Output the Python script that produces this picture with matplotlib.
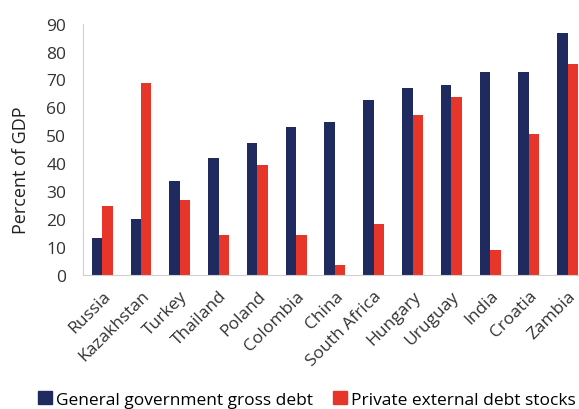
import matplotlib.pyplot as plt
import numpy as np
from matplotlib.patches import Patch

#############################################################################
# Data #
countries = ["Russia", "Kazakhstan", "Turkey", "Thailand", "Poland", "Colombia",
             "China", "South Africa", "Hungary", "Uruguay", "India", "Croatia", "Zambia"]
gov_debt = [13.2, 20.1, 33.6, 41.8, 47.2, 53.1, 54.6, 62.6, 66.8, 68.0, 72.5, 72.5, 86.6]
private_debt = [24.6, 68.7, 26.9, 14.3, 39.2, 14.3, 3.6, 18.2, 57.4, 63.7, 9.0, 50.4, 75.5]

NAVY = '#1f2a5e'
RED = '#e8352a'

plt.rcParams['font.family'] = ['Open Sans', 'DejaVu Sans']

#############################################################################
# Plotting #
fig = plt.figure(figsize=(5.79, 4.10), dpi=100)
ax = fig.add_axes([0.143, 0.327, 0.857, 0.613])

x = np.arange(len(countries))
w = 0.27
ax.bar(x - w / 2, gov_debt, w, color=NAVY)
ax.bar(x + w / 2, private_debt, w, color=RED)

ax.set_xlim(-0.5, 12.29)
ax.set_ylim(0, 90)
ax.set_yticks(range(0, 91, 10))
ax.set_xticks(x)
ax.set_xticklabels(countries, rotation=45, ha='right', rotation_mode='anchor')
ax.tick_params(length=0, colors='#333333')
ax.tick_params(axis='x', pad=9, labelsize=12.5)
ax.tick_params(axis='y', pad=12, labelsize=12.5)
ax.set_ylabel("Percent of GDP", fontsize=13, color='#222222')
ax.yaxis.set_label_coords(-0.107, 0.42)

for s in ['top', 'right']:
    ax.spines[s].set_visible(False)
for s in ['left', 'bottom']:
    ax.spines[s].set_color('#d0d0d0')

handles = [Patch(color=NAVY, label="General government gross debt"),
           Patch(color=RED, label="Private external debt stocks")]
fig.legend(handles=handles, loc='lower center', bbox_to_anchor=(0.53, -0.035), ncol=2,
           frameon=False, fontsize=12.5, handlelength=0.8, handleheight=0.8,
           handletextpad=0.2, columnspacing=1.2)

plt.savefig("out.png")
